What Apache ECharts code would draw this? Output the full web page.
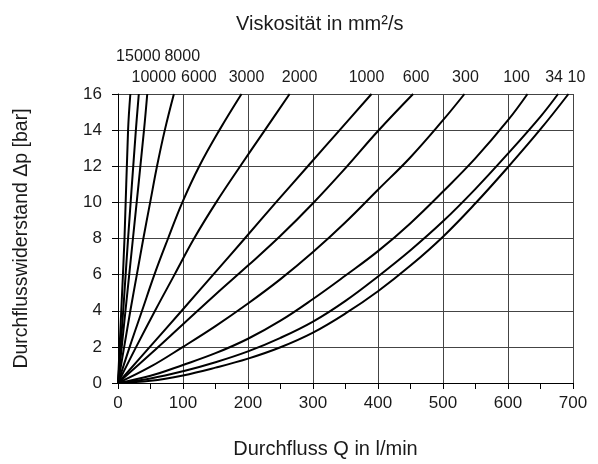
<!DOCTYPE html>
<html>
<head>
<meta charset="utf-8">
<script src="https://cdn.jsdelivr.net/npm/echarts@6/dist/echarts.min.js"></script>
<style>
  html, body { margin: 0; padding: 0; background: #fff; }
  #main { width: 598px; height: 464px; }
</style>
</head>
<body>
<div id="main"></div>
<script>
// Viskositäten (mm²/s), von hoch nach niedrig
var viscosities = ['15000', '10000', '8000', '6000', '3000', '2000', '1000', '600', '300', '100', '34', '10'];

// Kurven: [Durchfluss Q in l/min, Δp in bar]
var v15000 = [[0, 0], [5, 4], [10, 8], [15.5, 14], [19, 16]];
var v10000 = [[0, 0], [8, 4], [15.5, 8], [27.5, 14], [32, 16]];
var v8000 = [[0, 0], [11.5, 4], [23, 8], [40, 14], [45, 16]];
var v6000 = [[0, 0], [9.5, 2], [19, 4], [29, 6], [39, 8], [49.5, 10], [60, 12], [72, 14], [86, 16]];
var v3000 = [[0, 0], [18, 2], [37, 4], [56, 6], [77, 8], [99, 10], [125, 12], [156, 14], [190, 16]];
var v2000 = [[0, 0], [28, 2], [57, 4], [87, 6], [117, 8], [151, 10], [188, 12], [226, 14], [264, 16]];
var v1000 = [[0, 0], [49, 2], [98, 4], [146.5, 6], [195, 8], [243, 10], [292, 12], [341, 14], [390, 16]];
var v600 = [[0, 0], [50, 1.6], [100, 3.25], [150, 4.9], [200, 6.5], [250, 8.15], [300, 9.95], [350, 11.9], [400, 13.95], [454, 16]];
var v300 = [[0, 0], [50, 0.9], [100, 2.0], [150, 3.15], [200, 4.4], [250, 5.75], [300, 7.25], [350, 8.9], [400, 10.7], [450, 12.5], [500, 14.55], [533, 16]];
var v100 = [[0, 0], [50, 0.4], [100, 1.0], [150, 1.65], [200, 2.45], [250, 3.45], [300, 4.65], [350, 5.95], [400, 7.3], [450, 8.85], [500, 10.6], [550, 12.45], [600, 14.55], [630, 16]];
var v34 = [[0, 0], [50, 0.25], [100, 0.65], [150, 1.15], [200, 1.75], [250, 2.5], [300, 3.4], [350, 4.55], [400, 5.9], [450, 7.35], [500, 8.95], [550, 10.75], [600, 12.7], [650, 14.75], [677, 16]];
var v10 = [[0, 0], [50, 0.12], [100, 0.42], [150, 0.85], [200, 1.35], [250, 1.98], [300, 2.79], [350, 3.85], [400, 5.08], [450, 6.5], [500, 8.1], [550, 9.95], [600, 11.95], [650, 14.05], [693, 16]];

var curves = [v15000, v10000, v8000, v6000, v3000, v2000, v1000, v600, v300, v100, v34, v10];

// Achsen
var xTicks = [0, 100, 200, 300, 400, 500, 600, 700];
var yTicks = [0, 2, 4, 6, 8, 10, 12, 14, 16];

var FONT = '"Liberation Sans", Arial, Helvetica, sans-serif';
var TEXT = '#1a1a1a';

var chartDom = document.getElementById('main');
var myChart = echarts.init(chartDom, null, { renderer: 'canvas' });

var series = curves.map(function (pts, i) {
    return {
        name: viscosities[i],
        type: 'line',
        data: pts,
        showSymbol: false,
        smooth: 0.4,
        lineStyle: { color: '#000', width: 2 },
        emphasis: { disabled: true },
        z: 3
    };
});

var option = {
    animation: false,
    title: {
        text: 'Viskosität in mm²/s',
        left: 231,
        top: 9,
        textStyle: { fontFamily: FONT, fontSize: 20, fontWeight: 'normal', color: TEXT }
    },
    grid: { left: 118, right: 25, top: 94, bottom: 80 },
    xAxis: {
        type: 'value',
        min: xTicks[0],
        max: xTicks[xTicks.length - 1],
        interval: xTicks[1] - xTicks[0],
        name: 'Durchfluss Q in l/min',
        nameLocation: 'middle',
        nameGap: 56,
        nameTextStyle: { fontFamily: FONT, fontSize: 20, color: TEXT, padding: [0, 40, 0, 0] },
        axisLine: { lineStyle: { color: '#000', width: 1 } },
        axisTick: { show: true, length: 6, lineStyle: { color: '#000' } },
        minorTick: { show: true, splitNumber: 2, length: 6, lineStyle: { color: '#000' } },
        axisLabel: { margin: 12, fontFamily: FONT, fontSize: 17, color: TEXT },
        splitLine: { show: true, lineStyle: { color: '#444', width: 1 } }
    },
    yAxis: {
        type: 'value',
        min: yTicks[0],
        max: yTicks[yTicks.length - 1],
        interval: yTicks[1] - yTicks[0],
        name: 'Durchflusswiderstand Δp [bar]',
        nameLocation: 'middle',
        nameGap: 86,
        nameTextStyle: { fontFamily: FONT, fontSize: 19.5, color: TEXT },
        axisLine: { show: true, lineStyle: { color: '#000', width: 1 } },
        axisTick: { show: true, length: 6, lineStyle: { color: '#000' } },
        axisLabel: { margin: 16, fontFamily: FONT, fontSize: 17, color: TEXT },
        splitLine: { show: true, lineStyle: { color: '#444', width: 1 } }
    },
    series: series
};

option && myChart.setOption(option);

// Viskositätsbeschriftung über den Kurvenenden (zwei Zeilen wie im Original)
var labelDx = [8, 15, 35, 25, 5, 10, -5, 3, 1, -11, -4, 8];
var labelUpper = [true, false, true, false, false, false, false, false, false, false, false, false];
var graphics = curves.map(function (pts, i) {
    var end = myChart.convertToPixel({ seriesIndex: i }, pts[pts.length - 1]);
    return {
        type: 'text',
        x: end[0] + labelDx[i],
        y: end[1] - (labelUpper[i] ? 37 : 16),
        style: {
            text: viscosities[i],
            fill: TEXT,
            font: '16px ' + FONT,
            align: 'center',
            verticalAlign: 'middle'
        }
    };
});
myChart.setOption({ graphic: graphics });
</script>
</body>
</html>
